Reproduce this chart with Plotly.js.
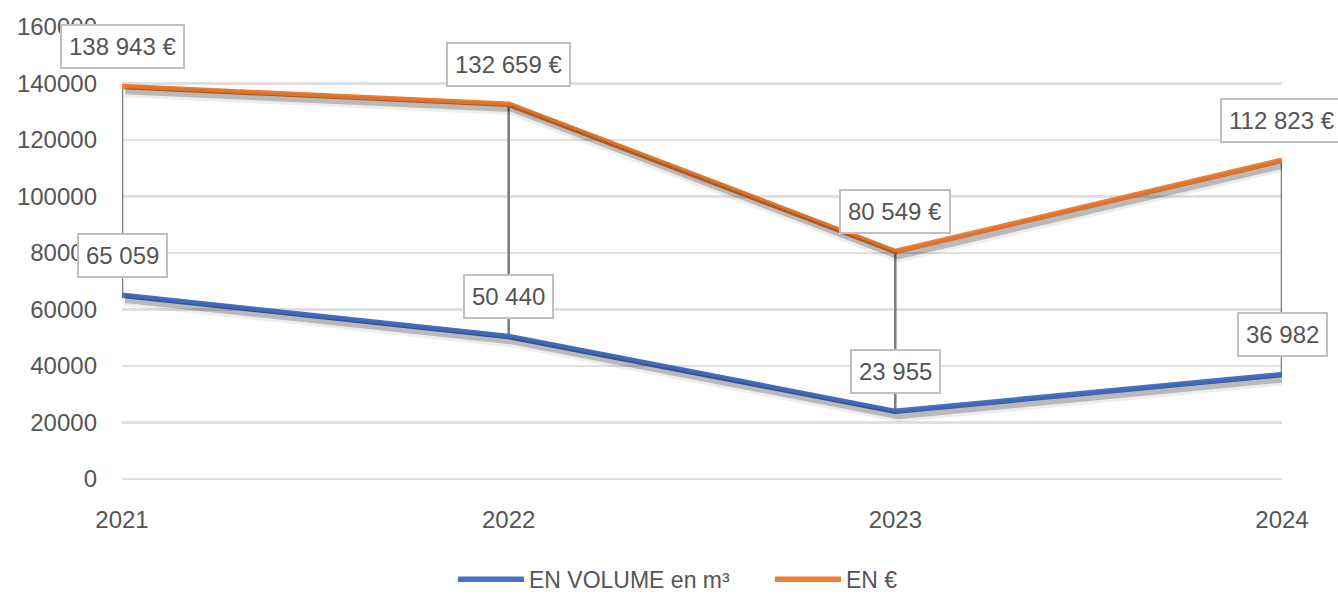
<!DOCTYPE html>
<html>
<head>
<meta charset="utf-8">
<script src="https://cdn.plot.ly/plotly-3.0.1.min.js"></script>
<style>html,body{margin:0;padding:0;background:#fff;}#chart{width:1338px;height:594px;}</style>
</head>
<body>
<div id="chart"></div>
<script>
const years = ["2021", "2022", "2023", "2024"];
const volume = [65059, 50440, 23955, 36982];
const euros = [138943, 132659, 80549, 112823];
const volumeLabels = ["65 059", "50 440", "23 955", "36 982"];
const euroLabels = ["138 943 €", "132 659 €", "80 549 €", "112 823 €"];
const seriesNames = ["EN VOLUME en m³", "EN €"];
const yTicks = [0, 20000, 40000, 60000, 80000, 100000, 120000, 140000, 160000];

const BLUE = "#4472C4", ORANGE = "#ED7D31";
const FONT = "Liberation Sans, Arial, sans-serif";
const TXT = "#555555";

// drop (high-low) lines
const dropX = [], dropY = [];
years.forEach((y, i) => { dropX.push(y, y, null); dropY.push(euros[i], volume[i], null); });

const traces = [];
// shadows
[volume, euros].forEach((vals) => {
  traces.push({x: years, y: vals, xaxis: "x2", yaxis: "y2", mode: "lines", hoverinfo: "skip",
    line: {color: "rgba(0,0,0,0.07)", width: 12}, showlegend: false});
  traces.push({x: years, y: vals, xaxis: "x2", yaxis: "y2", mode: "lines", hoverinfo: "skip",
    line: {color: "rgba(0,0,0,0.22)", width: 6}, showlegend: false});
});
traces.push({x: dropX, y: dropY, mode: "lines", line: {color: "#7a7a7a", width: 2.5}, showlegend: false, hoverinfo: "skip"});
traces.push({x: years, y: volume, name: seriesNames[0], mode: "lines", line: {color: BLUE, width: 5.5}});
traces.push({x: years, y: euros, name: seriesNames[1], mode: "lines", line: {color: ORANGE, width: 5.5}});

const annotations = [];
function addLabels(vals, labels) {
  vals.forEach((v, i) => {
    annotations.push({x: i, y: v, xref: "x", yref: "y", text: labels[i], showarrow: false,
      yshift: 40, font: {family: FONT, size: 24, color: TXT}, bgcolor: "#ffffff",
      bordercolor: "#c0c0c0", borderwidth: 2, borderpad: 7});
  });
}
addLabels(euros, euroLabels);
addLabels(volume, volumeLabels);

const layout = {
  width: 1338, height: 594,
  margin: {l: 122, r: 56, t: 27, b: 115, autoexpand: false},
  paper_bgcolor: "#ffffff", plot_bgcolor: "#ffffff",
  font: {family: FONT, size: 24, color: TXT},
  xaxis: {type: "category", range: [0, 3], showgrid: false, zeroline: false, showline: false,
    ticks: "", ticklabelstandoff: 24, tickfont: {size: 24, color: TXT}, automargin: false},
  yaxis: {range: [0, 160000], tickvals: yTicks, ticktext: yTicks.map(String), showgrid: true,
    gridcolor: "#e0e0e0", gridwidth: 2.5, zeroline: true, zerolinecolor: "#e0e0e0", zerolinewidth: 2.5,
    showline: false, ticks: "", ticklabelstandoff: 24, tickfont: {size: 24, color: TXT}, automargin: false},
  xaxis2: {type: "category", overlaying: "x", range: [-0.008, 2.992], visible: false},
  yaxis2: {overlaying: "y", range: [1700, 161700], visible: false},
  showlegend: true,
  legend: {orientation: "h", x: 0.5586, xanchor: "center", y: -0.222, yanchor: "middle",
    font: {family: FONT, size: 23, color: TXT}, traceorder: "normal", itemwidth: 66,
    entrywidth: 236, entrywidthmode: "pixels"},
  annotations: annotations
};

Plotly.newPlot("chart", traces, layout, {displayModeBar: false, staticPlot: true});
</script>
</body>
</html>
